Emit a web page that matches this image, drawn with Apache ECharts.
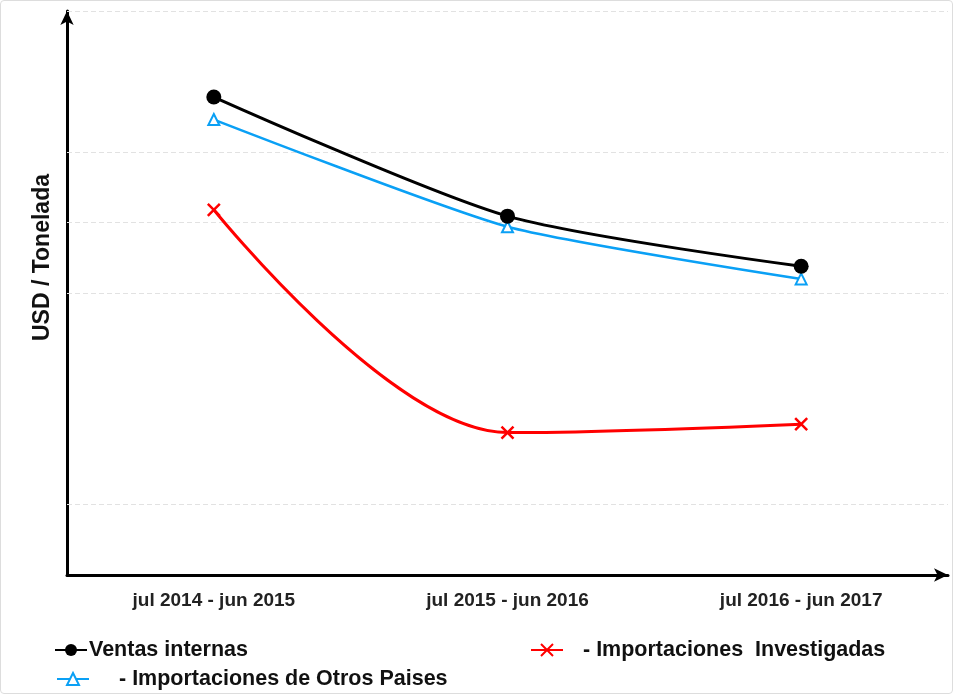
<!DOCTYPE html>
<html>
<head>
<meta charset="utf-8">
<script src="https://cdn.jsdelivr.net/npm/echarts@6/dist/echarts.min.js"></script>
<style>
  html, body { margin: 0; padding: 0; background: #fff; }
  #chart { width: 951px; height: 692px; border: 1px solid #ddd; border-radius: 4px; }
</style>
</head>
<body>
<div id="chart"></div>
<script>
// periodos
let periodos = ["jul 2014 - jun 2015", "jul 2015 - jun 2016", "jul 2016 - jun 2017"];
// USD / Tonelada (escala relativa, sin etiquetas en el original)
let ventasInternas = [678, 509, 438];
let importInvestigadas = [518, 202, 214];
let importOtros = [646, 494, 420];
let lineasGuia = [100, 400, 500, 600, 800];

let nombres = ["Ventas internas", "- Importaciones  Investigadas", "- Importaciones de Otros Paises"];
let fuente = "Liberation Sans, Arial, sans-serif";
let simboloX = "path://M0,0L10,10M10,0L0,10";
let textoLeyenda = { fontFamily: fuente, fontWeight: "bold", fontSize: 21.5, color: "#111" };

let chartsOptions = {
  animation: false,
  grid: { left: 66, right: 4, top: 10, bottom: 118 },
  legend: [
    {
      data: [nombres[0]], left: 53, top: 638, itemWidth: 32, itemHeight: 15, padding: 0,
      textStyle: Object.assign({ padding: [0, 0, 0, -3] }, textoLeyenda)
    },
    {
      data: [nombres[1]], left: 529, top: 638, itemWidth: 32, itemHeight: 15, padding: 0,
      textStyle: Object.assign({ padding: [0, 0, 0, 15] }, textoLeyenda)
    },
    {
      data: [nombres[2]], left: 55, top: 667, itemWidth: 32, itemHeight: 15, padding: 0,
      textStyle: Object.assign({ padding: [0, 0, 0, 25] }, textoLeyenda)
    }
  ],
  xAxis: {
    type: "category",
    data: periodos,
    boundaryGap: true,
    axisLine: { lineStyle: { color: "#000", width: 3 }, symbol: ["none", "arrow"], symbolSize: [10, 14] },
    axisTick: { show: false },
    axisLabel: { margin: 16, fontFamily: fuente, fontWeight: "bold", fontSize: 19, color: "#222" },
    splitLine: { show: false }
  },
  yAxis: {
    type: "value",
    min: 0,
    max: 800,
    interval: 100,
    axisLine: { show: true, lineStyle: { color: "#000", width: 3 }, symbol: ["none", "arrow"], symbolSize: [10, 14] },
    axisTick: { show: false },
    axisLabel: { show: false },
    splitLine: { show: false }
  },
  graphic: [{
    type: "text",
    x: 30,
    y: 340,
    rotation: Math.PI / 2,
    style: { text: "USD / Tonelada", font: "bold 23px " + fuente, fill: "#111", textVerticalAlign: "top" }
  }],
  series: [
    {
      name: "guia",
      type: "line",
      data: [],
      z: 1,
      markLine: {
        silent: true,
        z: 1,
        symbol: "none",
        label: { show: false },
        lineStyle: { color: "#e2e2e2", type: [5, 3], width: 1 },
        data: lineasGuia.map(v => ({ yAxis: v }))
      }
    },
    {
      name: nombres[0],
      type: "line",
      data: ventasInternas,
      smooth: 0.25,
      symbol: "circle",
      symbolSize: 15,
      lineStyle: { color: "#000", width: 3 },
      itemStyle: { color: "#000" },
      z: 4
    },
    {
      name: nombres[1],
      type: "line",
      data: importInvestigadas,
      smooth: 0.35,
      symbol: simboloX,
      symbolSize: 12,
      lineStyle: { color: "#ff0000", width: 3 },
      itemStyle: { color: "#ff0000", borderColor: "#ff0000", borderWidth: 2.5 },
      z: 3
    },
    {
      name: nombres[2],
      type: "line",
      data: importOtros,
      smooth: 0.2,
      symbol: "triangle",
      symbolSize: 11,
      lineStyle: { color: "#0aa0f5", width: 2.5 },
      itemStyle: { color: "#fff", borderColor: "#0aa0f5", borderWidth: 2 },
      z: 3
    }
  ]
};

let dataCharts = echarts.init(document.getElementById("chart"));
dataCharts.setOption(chartsOptions);
</script>
</body>
</html>
